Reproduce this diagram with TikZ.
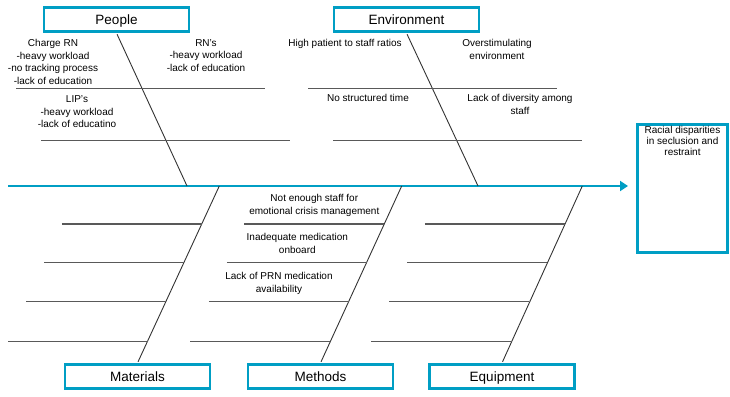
\documentclass[tikz,border=0pt]{standalone}
\usepackage{fontspec}
\setmainfont{Liberation Sans}
\usetikzlibrary{arrows.meta,calc}
\definecolor{fishblue}{RGB}{0,158,196}

\tikzset{
  catbox/.style={draw=fishblue, line width=2.6pt, minimum width=145pt, minimum height=24.5pt, inner sep=0pt, text height=9.7pt, text depth=0pt, font=\fontsize{13.5}{16}\selectfont},
  effectbox/.style={draw=fishblue, line width=2.6pt, minimum width=90.5pt, minimum height=128.5pt, inner sep=0pt},
  cause/.style={anchor=north, align=center, inner sep=0pt, font=\fontsize{10}{12.7}\selectfont},
  bone/.style={draw=black!80, line width=0.9pt, shorten <=1.3pt},
  rib/.style={draw=black!65, line width=1.1pt},
  spine/.style={draw=fishblue, line width=2.8pt, -{Triangle[length=8pt,width=10pt]}},
}

\begin{document}
\begin{tikzpicture}[x=1pt,y=-1pt]
    \useasboundingbox (0,0) rectangle (730,396);
    % spine and the points where the bones meet it
    \coordinate (tail) at (8,186);
    \coordinate (head) at (628,186);
    \coordinate (PJ) at (187,186);
    \coordinate (EJ) at (478,186);
    \coordinate (MaJ) at (219.3,186);
    \coordinate (MeJ) at (401.7,186);
    \coordinate (EqJ) at (582.3,186);
    \draw[spine] (tail) -- (head);
    % category boxes
    \node[catbox] (people) at (116.5,19.5) {People};
    \node[catbox] (environment) at (406.5,19.5) {Environment};
    \node[catbox] (materials) at (137.5,376.5) {Materials};
    \node[catbox] (methods) at (320.5,376.5) {Methods};
    \node[catbox] (equipment) at (502,376.5) {Equipment};
    \node[effectbox] (effect) at (682.5,188.5) {};
    \node[cause, font=\fontsize{10}{11}\selectfont] (effecttext) at ($(effect.north)+(0,3)$) {Racial disparities\\in seclusion and\\restraint};
    % bones
    \draw[bone] (people.south) -- (PJ);
    \draw[bone] (environment.south) -- (EJ);
    \draw[bone] (materials.north) -- (MaJ);
    \draw[bone] (methods.north) -- (MeJ);
    \draw[bone] (equipment.north) -- (EqJ);
    % ribs
    \draw[rib] (16,88.5) -- (265,88.5);
    \draw[rib] (41,140.5) -- (290,140.5);
    \draw[rib] (308,88.5) -- (557,88.5);
    \draw[rib] (333,140.5) -- (582,140.5);
    \foreach \x in {219.3,401.7,582.3}
      \foreach \y in {224,262.3,301.5,341.5}
        \draw[rib] ({\x-0.458*(\y-186)-140},\y) -- ({\x-0.458*(\y-186)},\y);
    % causes
    \node[cause] (chargern) at (53,39) {Charge RN\\-heavy workload\\-no tracking process\\-lack of education};
    \node[cause] (rns) at (206,39) {RN’s\\-heavy workload\\-lack of education};
    \node[cause] (lips) at (77,95.5) {LIP’s\\-heavy workload\\-lack of educatino};
    \node[cause] (ratios) at (345,39.5) {High patient to staff ratios};
    \node[cause] (overstim) at (497,39.5) {Overstimulating\\environment};
    \node[cause] (structured) at (368,94) {No structured time};
    \node[cause] (diversity) at (520,94) {Lack of diversity among\\staff};
    \node[cause] (crisis) at (314.3,194.5) {Not enough staff for\\emotional crisis management};
    \node[cause] (onboard) at (297.3,233.3) {Inadequate medication\\onboard};
    \node[cause] (prn) at (279,272.3) {Lack of PRN medication\\availability};
\end{tikzpicture}
\end{document}
